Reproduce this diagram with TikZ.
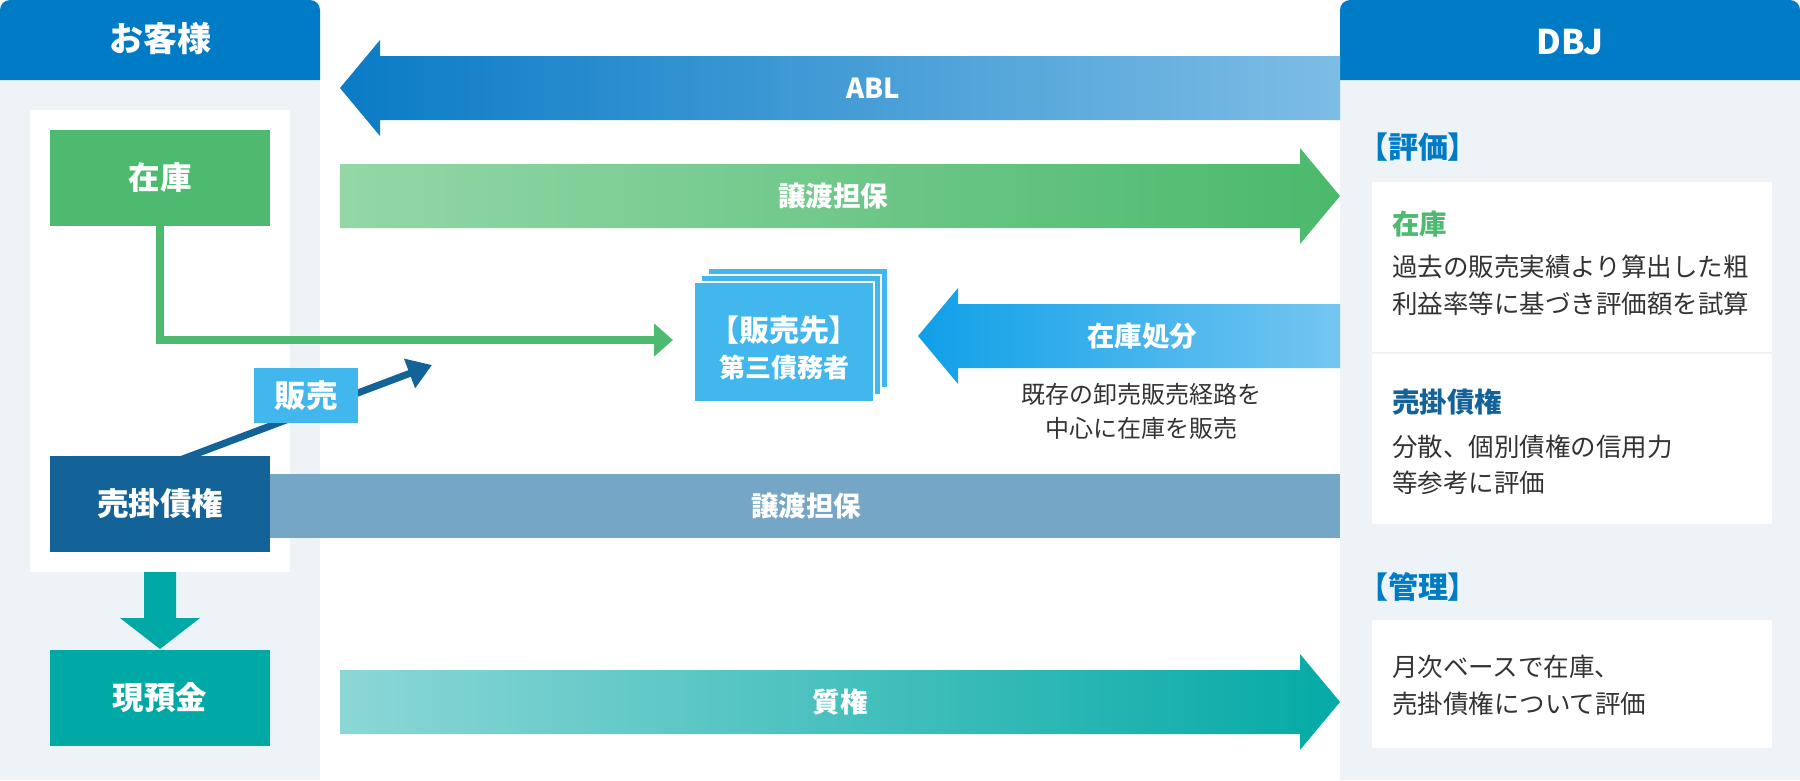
\documentclass[tikz,border=0pt]{standalone}
\usepackage{fontspec}
\setmainfont{Noto Sans CJK JP}
\newfontfamily\jpp{Noto Sans CJK JP}[RawFeature=+palt]
\usetikzlibrary{arrows.meta}
\definecolor{hdr}{HTML}{007CC6}
\definecolor{panel}{HTML}{EEF3F8}
\definecolor{zgreen}{HTML}{4DBA6F}
\definecolor{ublue}{HTML}{136399}
\definecolor{tealc}{HTML}{00A9A5}
\definecolor{lblue}{HTML}{42B7EE}
\definecolor{steel}{HTML}{76A6C6}
\definecolor{txt}{HTML}{333333}
\definecolor{ablL}{HTML}{0A7BC6}
\definecolor{ablR}{HTML}{7DBDE5}
\definecolor{jgL}{HTML}{93D7A7}
\definecolor{jgR}{HTML}{4BB96C}
\definecolor{zsL}{HTML}{0FA0E8}
\definecolor{zsR}{HTML}{74C6F1}
\definecolor{skL}{HTML}{8BD7D6}
\definecolor{skR}{HTML}{05AAA6}
\begin{document}
\begin{tikzpicture}[x=1pt,y=-1pt,
  every node/.style={inner sep=0pt, outer sep=0pt},
  tx/.style={text height=#1*0.88pt, text depth=#1*0.12pt},
  hdrtxt/.style={tx=34, text=white, font=\bfseries\fontsize{34}{34}\selectfont},
  box/.style={tx=31.5, text=white, font=\bfseries\fontsize{31.5}{31.5}\selectfont, minimum width=220pt, minimum height=96pt},
  lbl/.style={tx=27.5, text=white, font=\bfseries\fontsize{27.5}{27.5}\selectfont},
  sub/.style={tx=24, text=txt, font=\fontsize{24}{24}\selectfont},
  sect/.style={tx=30, anchor=west, text=hdr, font=\jpp\bfseries\fontsize{30}{30}\selectfont},
  ctitle/.style={tx=27.5, anchor=west, font=\bfseries\fontsize{27.5}{27.5}\selectfont},
  body/.style={tx=25.5, anchor=west, text=txt, font=\fontsize{25.5}{25.5}\selectfont},
  card/.style={fill=white},
  layer/.style={fill=lblue, draw=white, line width=2.5pt}
]
\useasboundingbox (0,0) rectangle (1800,780);
\fill[white] (0,0) rectangle (1800,780);

% ---- left panel
\fill[panel] (0,80) rectangle (320,780);
\fill[hdr] (0,80) {[rounded corners=10pt] -- (0,0) -- (320,0)} -- (320,80) -- cycle;
\node[hdrtxt] (kyaku) at (160,39) {お客様};
\fill[white] (30,110) rectangle (290,572);

\node[box, fill=zgreen] (zaiko) at (160,178) {在庫};
\node[box, fill=ublue] (urikake) at (160,504) {売掛債権};
\node[box, fill=tealc] (genkin) at (160,698) {現預金};

% teal down arrow
\fill[tealc] (144,572) -- (176,572) -- (176,618) -- (200,618) -- (160,649) -- (120,618) -- (144,618) -- cycle;

% ---- right panel
\fill[panel] (1340,80) rectangle (1800,780);
\fill[hdr] (1340,80) {[rounded corners=10pt] -- (1340,0) -- (1800,0)} -- (1800,80) -- cycle;
\node[hdrtxt] (dbj) at (1570,42) {DBJ};

\node[sect] (hyoka) at (1373,147) {【評価】};
\fill[card] (1372,182) rectangle (1772,352);
\fill[card] (1372,354) rectangle (1772,524);
\node[ctitle, text=zgreen] (c1t) at (1392,224) {在庫};
\node[body] (c1a) at (1392,267) {過去の販売実績より算出した粗};
\node[body] (c1b) at (1392,304) {利益率等に基づき評価額を試算};
\node[ctitle, text=ublue] (c2t) at (1392,402) {売掛債権};
\node[body] (c2a) at (1392,447) {分散、個別債権の信用力};
\node[body] (c2b) at (1392,483) {等参考に評価};

\node[sect] (kanri) at (1373,587) {【管理】};
\fill[card] (1372,620) rectangle (1772,748);
\node[body] (c3a) at (1392,667) {月次ベースで在庫、};
\node[body] (c3b) at (1392,704) {売掛債権について評価};

% ---- big arrows
\shade[left color=ablL, right color=ablR] (340,88) -- (380,40) -- (380,56) -- (1340,56) -- (1340,120) -- (380,120) -- (380,136) -- cycle;
\node[lbl] (abl) at (873,88) {ABL};

\shade[left color=jgL, right color=jgR] (340,164) -- (1300,164) -- (1300,148) -- (1340,196) -- (1300,244) -- (1300,228) -- (340,228) -- cycle;
\node[lbl] (joto1) at (833,196) {譲渡担保};

\shade[left color=zsL, right color=zsR] (918,336) -- (958,288) -- (958,304) -- (1340,304) -- (1340,368) -- (958,368) -- (958,384) -- cycle;
\node[lbl] (shobun) at (1142,336) {在庫処分};
\node[sub] (sub1) at (1141,394) {既存の卸売販売経路を};
\node[sub] (sub2) at (1141,428) {中心に在庫を販売};

\fill[steel] (270,474) rectangle (1340,538);
\node[lbl] (joto2) at (806,506) {譲渡担保};

\shade[left color=skL, right color=skR] (340,670) -- (1300,670) -- (1300,654) -- (1340,702) -- (1300,750) -- (1300,734) -- (340,734) -- cycle;
\node[lbl] (shichi) at (840,702) {質権};

% ---- hanbaisaki stack
\fill[layer] (708,268) rectangle (888,388);
\fill[layer] (701,275) rectangle (881,395);
\node[layer, draw=white, minimum width=180pt, minimum height=120pt] (saki) at (784,342) {};
\node[lbl, tx=30, font=\jpp\bfseries\fontsize{30}{30}\selectfont] (saki1) at (784,330) {【販売先】};
\node[lbl, tx=26, font=\bfseries\fontsize{26}{26}\selectfont] (saki2) at (784,368) {第三債務者};

% ---- connectors
\draw[zgreen, line width=7.5pt, -{Triangle[length=19pt,width=32pt]}, shorten >=21pt]
  (zaiko.south) |- ([yshift=2pt]saki.west);
\coordinate (hantip) at (432,365);
\draw[ublue, line width=7pt, -{Triangle[length=24pt,width=30pt]}]
  ([xshift=20pt,yshift=-4pt]urikake.north) -- (hantip);
\node[tx=31.5, fill=lblue, text=white, font=\bfseries\fontsize{31.5}{31.5}\selectfont, minimum width=104pt, minimum height=55pt] (hanbai) at (306,395.5) {販売};
\end{tikzpicture}
\end{document}
